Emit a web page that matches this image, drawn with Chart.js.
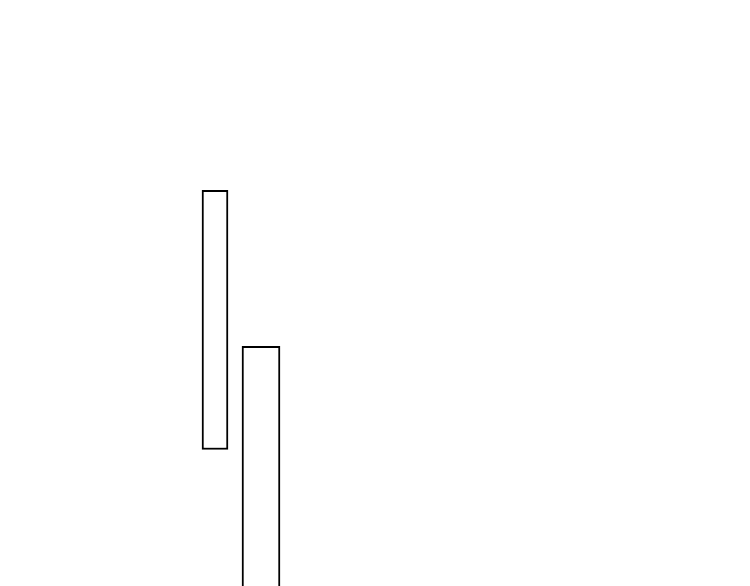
<!DOCTYPE html>
<html>
<head>
<meta charset="utf-8">
<script src="https://cdn.jsdelivr.net/npm/chart.js@4/dist/chart.umd.min.js"></script>
<style>
    html, body { margin: 0; padding: 0; background: #fff; }
    #rangeChart { display: block; }
</style>
</head>
<body>
<canvas id="rangeChart" width="750" height="586"></canvas>
<script>
// values (hidden axis, 0..10)
const categories = ['1', '2'];
const lows = [2.33, -1];
const highs = [6.75, 4.09];
const thickness = [26, 38];

document.addEventListener('DOMContentLoaded', function () {
    const ctx = document.getElementById('rangeChart');

    const datasets = categories.map((c, i) => ({
        label: c,
        data: categories.map((_, j) => (j === i ? [lows[i], highs[i]] : null)),
        backgroundColor: '#ffffff',
        borderColor: '#000000',
        borderWidth: 2,
        borderSkipped: false,
        barThickness: thickness[i],
        grouped: false
    }));

    new Chart(ctx, {
        type: 'bar',
        data: {
            labels: categories,
            datasets: datasets
        },
        options: {
            responsive: false,
            animation: false,
            devicePixelRatio: 1,
            layout: {
                padding: { left: 192, right: 466, top: 0, bottom: 0 }
            },
            plugins: {
                legend: { display: false },
                tooltip: { enabled: false }
            },
            scales: {
                x: { display: false },
                y: { display: false, min: 0, max: 10 }
            }
        }
    });
});
</script>
</body>
</html>
